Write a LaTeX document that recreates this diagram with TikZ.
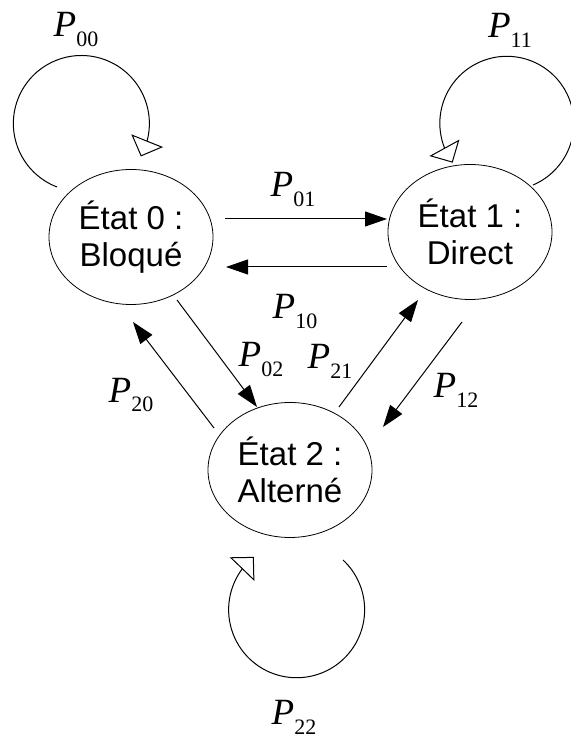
\documentclass[tikz,border=0pt]{standalone}
\usepackage{fontspec}
\setmainfont{Liberation Sans}
\newfontfamily\timesfont{Liberation Serif}
\usetikzlibrary{arrows.meta, bending, shapes.geometric}

\newcommand{\trans}[1]{{\itshape P}\raisebox{-10pt}{\fontsize{22pt}{22pt}\selectfont #1}}

\begin{document}
\begin{tikzpicture}[x=1pt, y=1pt,
        state/.style={draw, ellipse, line width=0.8pt, fill=white, minimum width=164pt,
                      minimum height=135pt, inner sep=0pt, align=center,
                      font=\fontsize{33pt}{37pt}\selectfont},
        prob/.style={inner sep=0pt, font=\timesfont\fontsize{37pt}{37pt}\selectfont},
        arr/.style={-{Triangle[length=22pt, width=15pt]}, line width=1pt},
        selfloop/.style={-{Triangle[open, length=17pt, width=34pt]}, line width=1pt},
      ]
        \useasboundingbox (0,0) rectangle (570,738);

        \node[state] (s0) at (131,501) {État 0 :\\Bloqué};
        \node[state] (s1) at (470,506) {État 1 :\\Direct};
        \node[state] (s2) at (290,268) {État 2 :\\Alterné};

        % self loops
        \coordinate (l0) at (57,551);
        \coordinate (l1) at (533,553);
        \coordinate (l2) at (343,178);
        \draw[selfloop] (l0) arc[start angle=249, end angle=-29, radius=68];
        \draw[selfloop] (l1) arc[start angle=-67, end angle=216, radius=67];
        \draw[selfloop] (l2) arc[start angle=47, end angle=-231, radius=68];

        % transitions
        \draw[arr] ([shift={(94,18)}]s0.center) -- ([shift={(-83,13)}]s1.center);
        \draw[arr] ([shift={(-83,-35)}]s1.center) -- ([shift={(95,-30)}]s0.center);
        \draw[arr] ([shift={(46,-63)}]s0.center) -- ([shift={(-33,63)}]s2.center);
        \draw[arr] ([shift={(-76,42)}]s2.center) -- ([shift={(2,-85)}]s0.center);
        \draw[arr] ([shift={(49,63)}]s2.center) -- ([shift={(-52,-68)}]s1.center);
        \draw[arr] ([shift={(-8,-90)}]s1.center) -- ([shift={(93,43)}]s2.center);

        \node[prob] (p00) at (76,708) {\trans{00}};
        \node[prob] (p11) at (510,708) {\trans{11}};
        \node[prob] (p01) at (293,548) {\trans{01}};
        \node[prob] (p10) at (295,426) {\trans{10}};
        \node[prob] (p02) at (261,378) {\trans{02}};
        \node[prob] (p21) at (330,377) {\trans{21}};
        \node[prob] (p20) at (131,343) {\trans{20}};
        \node[prob] (p12) at (456,348) {\trans{12}};
        \node[prob] (p22) at (294,21) {\trans{22}};
      \end{tikzpicture}
\end{document}
